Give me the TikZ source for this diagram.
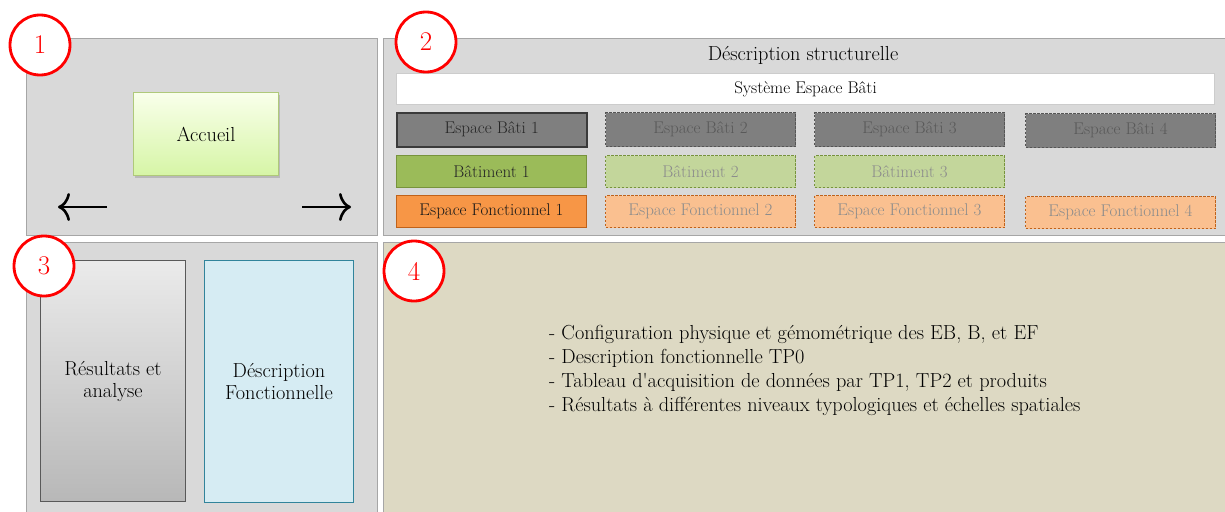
\documentclass[tikz,border=0pt]{standalone}
\usetikzlibrary{shadows,arrows.meta}
\definecolor{panelgray}{HTML}{D9D9D9}
\definecolor{panelborder}{HTML}{A6A6A6}
\definecolor{beige}{HTML}{DDD9C3}
\definecolor{ebfill}{HTML}{7F7F7F}
\definecolor{ebdraw}{HTML}{3A3A3A}
\definecolor{ebdash}{HTML}{555555}
\definecolor{bfill}{HTML}{9BBB59}
\definecolor{bdraw}{HTML}{77933C}
\definecolor{bfilllight}{HTML}{C3D69B}
\definecolor{effill}{HTML}{F79646}
\definecolor{efdraw}{HTML}{C0621A}
\definecolor{effilllight}{HTML}{FAC090}
\definecolor{dfill}{HTML}{D6ECF3}
\definecolor{ddraw}{HTML}{31849B}
\definecolor{redc}{HTML}{FF0000}
\begin{document}
\begin{tikzpicture}[x=1pt,y=-1pt,
  panel/.style={draw=panelborder,fill=panelgray,line width=1pt},
  boxbase/.style={anchor=north west,inner sep=0pt,minimum width=190pt,minimum height=34pt,
    font=\fontsize{17}{20}\selectfont},
  ebone/.style={boxbase,fill=ebfill,draw=ebdraw,line width=1.5pt,text=black!85},
  ebdashed/.style={boxbase,fill=ebfill,draw=ebdash,line width=1pt,dash pattern=on 2.5pt off 1.5pt,text=black!65},
  bone/.style={boxbase,fill=bfill,draw=bdraw,line width=1pt,text=black!85},
  bdashed/.style={boxbase,fill=bfilllight,draw=bdraw,line width=1pt,dash pattern=on 2.5pt off 1.5pt,text=black!45},
  efone/.style={boxbase,fill=effill,draw=efdraw,line width=1pt,text=black!90},
  efdashed/.style={boxbase,fill=effilllight,draw=efdraw,line width=1pt,dash pattern=on 2.5pt off 1.5pt,text=black!45},
  numcirc/.style={circle,draw=redc,fill=white,line width=2.8pt,minimum size=60pt,inner sep=0pt,
    text=redc,font=\fontsize{27}{27}\selectfont},
  bigtext/.style={font=\fontsize{20.3}{22}\selectfont,align=center},
  navarrow/.style={line width=2.6pt,-{Computer Modern Rightarrow[length=12pt,width=28pt,line width=2.6pt]}}
]
\useasboundingbox (0,0) rectangle (1225,511);
% panels
\draw[panel] (26,39) rectangle (377,235.5);
\draw[panel] (383,39) rectangle (1232,235.5);
\draw[panel] (26,242) rectangle (377,520);
\draw[panel,fill=beige] (383,242) rectangle (1232,520);

% panel 1
\node[anchor=north west,minimum width=145pt,minimum height=83pt,inner sep=0pt,
  draw=bfill!80!white,line width=1pt,top color=green!5!lime!8!white,bottom color={rgb,255:red,214;green,245;blue,166},
  drop shadow={shadow xshift=1.5pt,shadow yshift=-2.5pt,opacity=0.35},bigtext] (acc) at (133,92) {Accueil};
\coordinate (la1) at (107,207);
\coordinate (la2) at (58,207);
\coordinate (ra1) at (302,207);
\coordinate (ra2) at (351,207);
\draw[navarrow] (la1) -- (la2);
\draw[navarrow] (ra1) -- (ra2);

% panel 2
\node[bigtext] (title2) at (803,55) {Déscription structurelle};
\node[anchor=north west,inner sep=0pt,minimum width=818pt,minimum height=31pt,fill=white,draw=black!20,line width=1pt,
  font=\fontsize{17}{20}\selectfont] (sys) at (396,73) {Système Espace Bâti};

\node[ebone] (eb1) at (396,112) {Espace Bâti 1};
\node[ebdashed] (eb2) at (605,112) {Espace Bâti 2};
\node[ebdashed] (eb3) at (814,112) {Espace Bâti 3};
\node[ebdashed] (eb4) at (1025,113) {Espace Bâti 4};

\node[bone,minimum height=32pt] (b1) at (396,155) {Bâtiment 1};
\node[bdashed,minimum height=32pt] (b2) at (605,155) {Bâtiment 2};
\node[bdashed,minimum height=32pt] (b3) at (814,155) {Bâtiment 3};

\node[efone,minimum height=32pt] (ef1) at (396,195) {Espace Fonctionnel 1};
\node[efdashed,minimum height=32pt] (ef2) at (605,195) {Espace Fonctionnel 2};
\node[efdashed,minimum height=32pt] (ef3) at (814,195) {Espace Fonctionnel 3};
\node[efdashed,minimum height=32pt] (ef4) at (1025,196) {Espace Fonctionnel 4};

% panel 3
\node[anchor=north west,inner sep=0pt,minimum width=145pt,minimum height=241pt,
  draw=black!65,line width=1pt,top color=black!8,bottom color=black!28,bigtext] (res) at (40,260) {Résultats et\\analyse};
\node[anchor=north west,inner sep=0pt,minimum width=149pt,minimum height=242pt,
  draw=ddraw,fill=dfill,line width=1pt,bigtext] (desc) at (204,260) {Déscription\\Fonctionnelle};

% panel 4
\node[anchor=west,inner sep=0pt,align=left,font=\fontsize{20.3}{24}\selectfont] (list) at (549,370) {%
- Configuration physique et gémométrique des EB, B, et EF\\
- Description fonctionnelle TP0\\
- Tableau d\textquotesingle acquisition de données par TP1, TP2 et produits\\
- Résultats à différentes niveaux typologiques et échelles spatiales};

% numbered circles
\node[numcirc] (c1) at (40,45) {1};
\node[numcirc] (c2) at (426,42) {2};
\node[numcirc] (c3) at (44,266) {3};
\node[numcirc] (c4) at (414,271) {4};
\end{tikzpicture}
\end{document}
